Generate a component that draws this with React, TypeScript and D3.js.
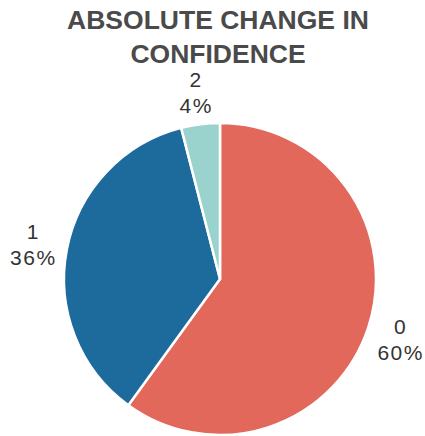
import React from "react";
import * as d3 from "d3";

const categories = ["0", "1", "2"];
const values = [60, 36, 4];
const colors = ["#E2685C", "#1C6B9C", "#9AD3CE"];
const titleLines = ["ABSOLUTE CHANGE IN", "CONFIDENCE"];

export default function App() {
  const W = 425, H = 436;
  const cx = 220, cy = 279, r = 156, labelR = 190;
  const data = categories.map((c, i) => ({ c, v: values[i], color: colors[i] }));
  const pie = d3.pie<any>().value((d) => d.v).sort(null);
  const arcs = pie(data);
  const arc = d3.arc<any>().innerRadius(0).outerRadius(r);
  const labelArc = d3.arc<any>().innerRadius(labelR).outerRadius(labelR);
  const total = d3.sum(values);
  return (
    <svg width={W} height={H} style={{ position: "absolute", left: 0, top: 0 }}>
      <rect width={W} height={H} fill="#fff" />
      {titleLines.map((t, i) => (
        <text key={i} x={218} y={29 + i * 34} textAnchor="middle"
          fontFamily="Liberation Sans, Arial, sans-serif" fontWeight="bold"
          fontSize={26.5} fill="#4a4a4a">{t}</text>
      ))}
      <g transform={`translate(${cx},${cy})`}>
        {arcs.map((a, i) => (
          <path key={i} d={arc(a) as string} fill={a.data.color} stroke="#fff" strokeWidth={2.5} strokeLinejoin="round" />
        ))}
        {arcs.map((a, i) => {
          const [lx, ly] = labelArc.centroid(a);
          return (
            <text key={i} x={lx} y={ly} textAnchor="middle"
              fontFamily="Liberation Sans, Arial, sans-serif" fontSize={21} letterSpacing={1.5} fill="#333">
              <tspan x={lx} dy={-4}>{a.data.c}</tspan>
              <tspan x={lx} dy={26}>{Math.round((a.data.v / total) * 100) + "%"}</tspan>
            </text>
          );
        })}
      </g>
    </svg>
  );
}
